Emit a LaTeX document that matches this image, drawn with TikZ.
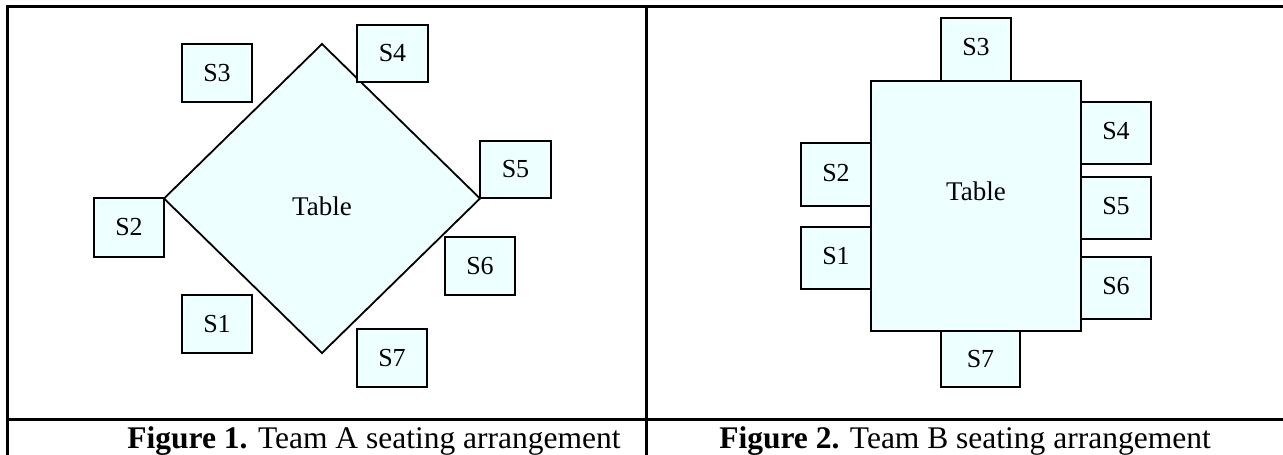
\documentclass[tikz,border=0pt]{standalone}
\usepackage{fontspec}
\setmainfont{Liberation Serif}
\begin{document}
\begin{tikzpicture}[x=1pt,y=-1pt,
  seat/.style={draw=black, line width=2pt, fill=tablefill, inner sep=0pt,
    font=\fontsize{26}{30}\selectfont},
  tabletop/.style={draw=black, line width=2pt, fill=tablefill},
  tablelabel/.style={font=\fontsize{27}{30}\selectfont, inner sep=0pt},
  frame/.style={line width=3pt, line cap=rect},
  caption/.style={font=\fontsize{31.5}{36}\selectfont, inner sep=0pt, anchor=base}]
\definecolor{tablefill}{RGB}{238,255,255}
\useasboundingbox (0,0) rectangle (1283,455);
\fill[white] (0,0) rectangle (1283,455);

% ---- Team A: diamond table ----
\coordinate (dT) at (322,44);
\coordinate (dL) at (164,198.5);
\coordinate (dB) at (322,353);
\coordinate (dR) at (480,198.5);
\draw[tabletop, line width=1.8pt] (dT) -- (dR) -- (dB) -- (dL) -- cycle;
\node[tablelabel] (tabA) at (322,206) {Table};

\node[seat, minimum width=70pt, minimum height=58pt] (a3) at (217,73) {S3};
\node[seat, minimum width=71pt, minimum height=57pt] (a4) at (392.5,53.5) {S4};
\node[seat, minimum width=71pt, minimum height=57pt] (a5) at (515.5,169.5) {S5};
\node[seat, minimum width=70pt, minimum height=59pt] (a2) at (129,227.5) {S2};
\node[seat, minimum width=70pt, minimum height=58pt] (a6) at (480,266) {S6};
\node[seat, minimum width=70pt, minimum height=58pt] (a1) at (217,324) {S1};
\node[seat, minimum width=70pt, minimum height=58pt] (a7) at (392,358) {S7};

% ---- Team B: rectangular table ----
\node[tabletop, minimum width=210pt, minimum height=250pt, inner sep=0pt] (tabB) at (976,206) {};
\node[tablelabel] (tabBtext) at (976,191) {Table};

\node[seat, minimum width=70pt, minimum height=63pt] (b3) at (976,49.5) {\raisebox{6pt}{S3}};
\node[seat, minimum width=70pt, minimum height=62pt] (b4) at (1116,133) {\raisebox{4pt}{S4}};
\node[seat, minimum width=70pt, minimum height=62pt] (b5) at (1116,208) {\raisebox{4pt}{S5}};
\node[seat, minimum width=70pt, minimum height=62pt] (b6) at (1116,288) {\raisebox{4pt}{S6}};
\node[seat, minimum width=70pt, minimum height=63pt] (b2) at (836,174.5) {\raisebox{4pt}{S2}};
\node[seat, minimum width=70pt, minimum height=62pt] (b1) at (836,258) {\raisebox{4pt}{S1}};
\node[seat, minimum width=79pt, minimum height=56pt] (b7) at (980.5,359) {S7};

% ---- table frame and captions ----
\coordinate (fTL) at (7,6);
\coordinate (fTR) at (1283,6);
\coordinate (fML) at (7,419);
\coordinate (fMR) at (1283,419);
\coordinate (fBL) at (7,455);
\coordinate (cT) at (646,6);
\coordinate (cB) at (646,455);
\draw[frame] (fTR) -- (fTL) -- (fBL);
\draw[frame] (cT) -- (cB);
\draw[frame] (fML) -- (fMR);

\node[caption] (capA) at (374,448) {\textbf{Figure 1.} Team A seating arrangement};
\node[caption] (capB) at (965,448) {\textbf{Figure 2.} Team B seating arrangement};
\end{tikzpicture}
\end{document}
